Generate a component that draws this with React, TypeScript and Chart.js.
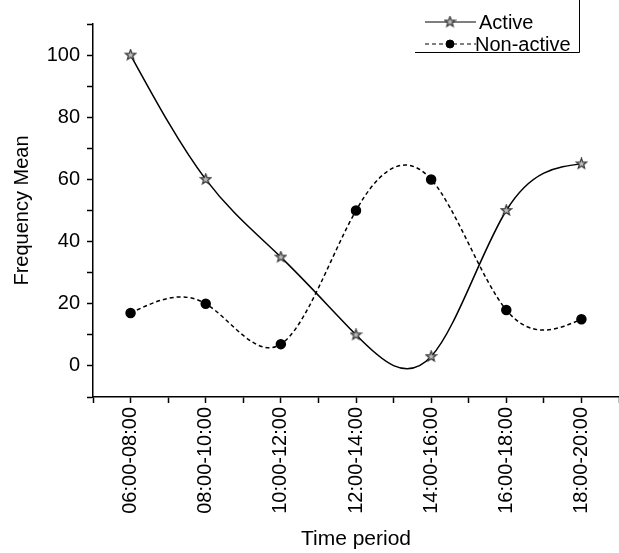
import React, { useEffect, useRef } from "react";
import { Chart, registerables } from "chart.js";
import { drawPoint } from "chart.js/helpers";

Chart.register(...registerables);

const categories = [
  "06:00-08:00",
  "08:00-10:00",
  "10:00-12:00",
  "12:00-14:00",
  "14:00-16:00",
  "16:00-18:00",
  "18:00-20:00",
];
const activeValues = [100, 60, 35, 10, 3, 50, 65];
const nonActiveValues = [17, 20, 7, 50, 60, 18, 15];
const yTickLabels = [0, 20, 40, 60, 80, 100];
const seriesNames = ["Active", "Non-active"];
const seriesDash = [[], [4, 3]];

const FONT = "'Liberation Sans', Arial, sans-serif";

function makeStarMarker(): HTMLCanvasElement {
  const c = document.createElement("canvas");
  c.width = 13;
  c.height = 13;
  const g = c.getContext("2d")!;
  const cx = 6.5, cy = 6.5, R = 5.5, r = 2.3;
  g.beginPath();
  for (let k = 0; k < 10; k++) {
    const ang = -Math.PI / 2 + (k * Math.PI) / 5;
    const rad = k % 2 === 0 ? R : r;
    const px = cx + rad * Math.cos(ang);
    const py = cy + rad * Math.sin(ang);
    if (k === 0) g.moveTo(px, py);
    else g.lineTo(px, py);
  }
  g.closePath();
  g.fillStyle = "#bbb";
  g.fill();
  g.strokeStyle = "#333";
  g.lineWidth = 1.2;
  g.stroke();
  return c;
}

// Natural cubic spline through the points placed by Chart.js (pixel space)
function drawNaturalSpline(ctx: CanvasRenderingContext2D, pts: { x: number; y: number }[]) {
  const n = pts.length;
  if (n < 2) return;
  const h: number[] = [];
  for (let i = 0; i < n - 1; i++) h.push(pts[i + 1].x - pts[i].x);
  const M = new Array(n).fill(0);
  if (n > 2) {
    const a: number[] = [], b: number[] = [], c: number[] = [], d: number[] = [];
    for (let i = 1; i < n - 1; i++) {
      a.push(h[i - 1]);
      b.push(2 * (h[i - 1] + h[i]));
      c.push(h[i]);
      d.push(6 * ((pts[i + 1].y - pts[i].y) / h[i] - (pts[i].y - pts[i - 1].y) / h[i - 1]));
    }
    const m = b.length;
    for (let i = 1; i < m; i++) {
      const w = a[i] / b[i - 1];
      b[i] -= w * c[i - 1];
      d[i] -= w * d[i - 1];
    }
    const sol = new Array(m).fill(0);
    sol[m - 1] = d[m - 1] / b[m - 1];
    for (let i = m - 2; i >= 0; i--) sol[i] = (d[i] - c[i] * sol[i + 1]) / b[i];
    for (let i = 0; i < m; i++) M[i + 1] = sol[i];
  }
  ctx.beginPath();
  ctx.moveTo(pts[0].x, pts[0].y);
  for (let i = 0; i < n - 1; i++) {
    const hi = h[i];
    const s = (pts[i + 1].y - pts[i].y) / hi;
    const d0 = s - (hi * (2 * M[i] + M[i + 1])) / 6;
    const d1 = s + (hi * (M[i] + 2 * M[i + 1])) / 6;
    ctx.bezierCurveTo(
      pts[i].x + hi / 3,
      pts[i].y + (hi / 3) * d0,
      pts[i + 1].x - hi / 3,
      pts[i + 1].y - (hi / 3) * d1,
      pts[i + 1].x,
      pts[i + 1].y
    );
  }
  ctx.stroke();
}

const splinePlugin = {
  id: "naturalSpline",
  beforeDatasetsDraw(chart: any) {
    const ctx = chart.ctx;
    chart.data.datasets.forEach((_ds: any, di: number) => {
      const meta = chart.getDatasetMeta(di);
      const pts = meta.data.map((p: any) => ({ x: p.x, y: p.y }));
      ctx.save();
      ctx.strokeStyle = "#000";
      ctx.lineWidth = 1.5;
      ctx.setLineDash(seriesDash[di]);
      drawNaturalSpline(ctx, pts);
      ctx.restore();
    });
  },
};

function makeLegendPlugin(star: HTMLCanvasElement) {
  return {
    id: "lineLegend",
    afterDraw(chart: any) {
      const ctx = chart.ctx;
      ctx.save();
      ctx.strokeStyle = "#000";
      ctx.lineWidth = 1;
      ctx.beginPath();
      ctx.moveTo(579.5, 0);
      ctx.lineTo(579.5, 52.5);
      ctx.lineTo(415, 52.5);
      ctx.stroke();

      const rows = [
        { y: 22, style: star as any, r: 5, fill: "#000", stroke: "#000", bw: 1 },
        { y: 44, style: "circle" as any, r: 4, fill: "#000", stroke: "#000", bw: 1 },
      ];
      rows.forEach((row, i) => {
        ctx.save();
        ctx.strokeStyle = "#000";
        ctx.lineWidth = 1.2;
        ctx.setLineDash(seriesDash[i]);
        ctx.beginPath();
        ctx.moveTo(425, row.y);
        ctx.lineTo(476, row.y);
        ctx.stroke();
        ctx.restore();
        ctx.save();
        ctx.fillStyle = row.fill;
        ctx.strokeStyle = row.stroke;
        ctx.lineWidth = row.bw;
        drawPoint(ctx, { pointStyle: row.style, radius: row.r, rotation: 0, borderWidth: row.bw }, 450, row.y);
        ctx.restore();
        ctx.fillStyle = "#000";
        ctx.font = `20px ${FONT}`;
        ctx.textBaseline = "middle";
        ctx.textAlign = "left";
        ctx.fillText(seriesNames[i], i === 0 ? 479 : 475, row.y + 1);
      });
      ctx.restore();
    },
  };
}

export default function App() {
  const canvasRef = useRef<HTMLCanvasElement | null>(null);

  useEffect(() => {
    document.body.style.margin = "0";
    const canvas = canvasRef.current;
    if (!canvas) return;
    const star = makeStarMarker();
    const chart = new Chart(canvas, {
      type: "line",
      data: {
        datasets: [
          {
            label: seriesNames[0],
            data: activeValues.map((v, i) => ({ x: i, y: v })),
            showLine: false,
            borderColor: "#000",
            borderWidth: 1.5,
            pointStyle: star as any,
            pointRadius: 5,
            fill: false,
          },
          {
            label: seriesNames[1],
            data: nonActiveValues.map((v, i) => ({ x: i, y: v })),
            showLine: false,
            borderColor: "#000",
            borderWidth: 1.5,
            pointStyle: "circle",
            pointRadius: 4.5,
            pointBorderColor: "#000",
            pointBackgroundColor: "#000",
            fill: false,
          },
        ],
      },
      options: {
        responsive: false,
        animation: false,
        devicePixelRatio: 1,
        layout: { autoPadding: false, padding: { top: 24, left: 0, right: 0, bottom: 0 } },
        plugins: {
          legend: { display: false },
          tooltip: { enabled: false },
        },
        scales: {
          x: {
            type: "linear",
            min: -0.5,
            max: 6.5,
            afterBuildTicks(scale: any) {
              const t = [];
              for (let k = -1; k <= categories.length * 2 - 1; k++) t.push({ value: k / 2 });
              scale.ticks = t;
            },
            afterFit(scale: any) {
              scale.height = 156;
              scale.paddingLeft = 0;
              scale.paddingRight = 0;
            },
            ticks: {
              autoSkip: false,
              maxRotation: 90,
              minRotation: 90,
              padding: 4,
              color: "#000",
              font: { family: FONT, size: 20 },
              callback(value: any) {
                const v = Number(value);
                return Number.isInteger(v) && v >= 0 && v < categories.length ? categories[v] : "";
              },
            },
            grid: {
              drawOnChartArea: false,
              tickLength: 6,
              tickColor: "#000",
              tickWidth: 1.5,
            },
            border: { color: "#000", width: 1.5 },
            title: {
              display: true,
              text: "Time period",
              color: "#000",
              font: { family: FONT, size: 21 },
              padding: { top: 0, bottom: 1 },
            },
          },
          y: {
            type: "linear",
            min: -10,
            max: 110,
            ticks: {
              stepSize: 10,
              padding: 7,
              color: "#000",
              font: { family: FONT, size: 20 },
              callback(value: any) {
                const v = Number(value);
                return yTickLabels.includes(v) ? String(v) : "";
              },
            },
            afterFit(scale: any) {
              scale.width = 93;
              scale.paddingTop = 0;
              scale.paddingBottom = 0;
            },
            grid: {
              drawOnChartArea: false,
              tickLength: 6,
              tickColor: "#000",
              tickWidth: 1.5,
            },
            border: { color: "#000", width: 1.5 },
            title: {
              display: true,
              text: "Frequency Mean",
              color: "#000",
              font: { family: FONT, size: 20 },
              padding: { top: 10, bottom: 0 },
            },
          },
        },
      },
      plugins: [splinePlugin, makeLegendPlugin(star)],
    });
    return () => chart.destroy();
  }, []);

  return (
    <div style={{ width: 619, height: 553 }}>
      <canvas ref={canvasRef} width={619} height={553} style={{ display: "block" }} />
    </div>
  );
}
